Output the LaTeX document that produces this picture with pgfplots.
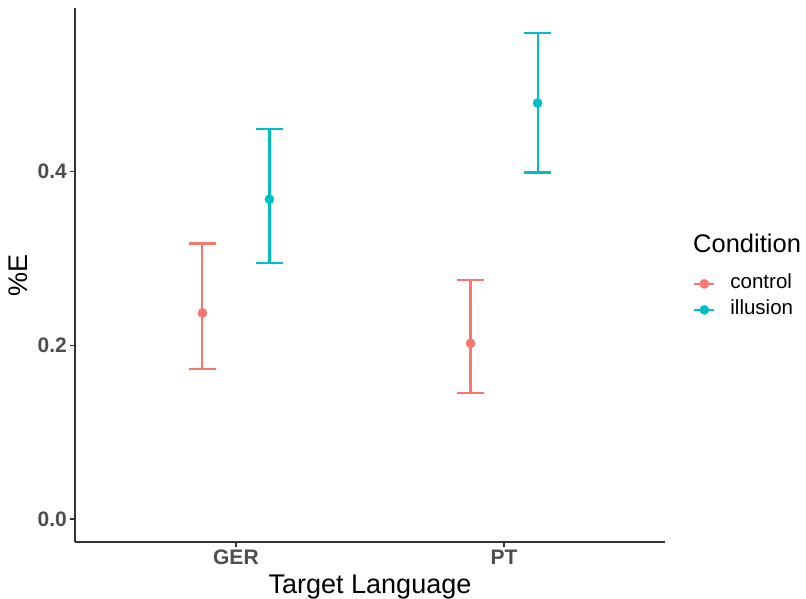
\documentclass[border=0pt]{standalone}
\usepackage{pgfplots}
\pgfplotsset{compat=1.18}
\usepackage{fontspec}
\setmainfont{Liberation Sans}
\definecolor{ctrl}{HTML}{F8766D}
\definecolor{illu}{HTML}{00BFC4}
\definecolor{axcol}{HTML}{333333}
\definecolor{tickcol}{HTML}{4D4D4D}
\begin{document}
\begin{tikzpicture}
\useasboundingbox (-75pt,-56pt) rectangle (731pt,542pt);
\begin{axis}[
  at={(0pt,0pt)}, anchor=south west,
  scale only axis, width=590pt, height=534pt,
  xmin=0.4, xmax=2.6, ymin=-0.0265, ymax=0.5885,
  clip=false,
  axis x line*=bottom, axis y line*=left,
  axis line style={line width=1.6pt, color=axcol, -},
  tick align=outside, major tick length=5pt,
  tick style={color=axcol, line width=1.2pt},
  xtick={1,2}, xticklabels={GER,PT},
  ytick={0,0.2,0.4}, yticklabels={0.0,0.2,0.4},
  ticklabel style={font=\fontsize{21}{25}\selectfont\bfseries, text=tickcol},
  yticklabel style={inner sep=0pt, xshift=-3pt},
  xticklabel style={inner sep=0pt, yshift=-3pt},
  xlabel={Target Language}, ylabel={\%E},
  label style={font=\fontsize{27}{32}\selectfont},
  xlabel style={at={(axis description cs:0.5,-0.0955)}, anchor=base},
  ylabel style={at={(axis description cs:-0.0797,0.5)}, anchor=base},
  legend style={at={(axis description cs:1.0475,0.459)}, anchor=west,
    draw=none, fill=none, inner sep=0pt, row sep=8pt,
    font=\fontsize{20.5}{24}\selectfont,
    nodes={inner sep=0pt, text height=14pt, text depth=4pt}},
  legend cell align=left,
  error bars/y dir=both, error bars/y explicit,
  error bars/error mark=|,
  error bars/error bar style={line width=2.2pt},
  error bars/error mark options={mark size=13.8pt, line width=2.2pt},
]
\addplot[color=ctrl, only marks, mark=*, mark size=4.6pt,
  legend image code/.code={\draw[line width=2.2pt] (0pt,0pt) -- (20pt,0pt); \fill (10pt,0pt) circle (4.6pt);}]
  coordinates {
  (0.875,0.2372) += (0,0.0800) -= (0,0.0648)
  (1.875,0.2023) += (0,0.0726) -= (0,0.0573)
};
\addlegendentry{\hspace{15pt}control}
\addplot[color=illu, only marks, mark=*, mark size=4.6pt,
  legend image code/.code={\draw[line width=2.2pt] (0pt,0pt) -- (20pt,0pt); \fill (10pt,0pt) circle (4.6pt);}]
  coordinates {
  (1.125,0.3682) += (0,0.0806) -= (0,0.0734)
  (2.125,0.4791) += (0,0.0807) -= (0,0.0801)
};
\addlegendentry{\hspace{15pt}illusion}
\node[anchor=base west, font=\fontsize{25.5}{30}\selectfont, inner sep=0pt] at (axis description cs:1.0475,0.543) {Condition};
\end{axis}
\end{tikzpicture}
\end{document}
